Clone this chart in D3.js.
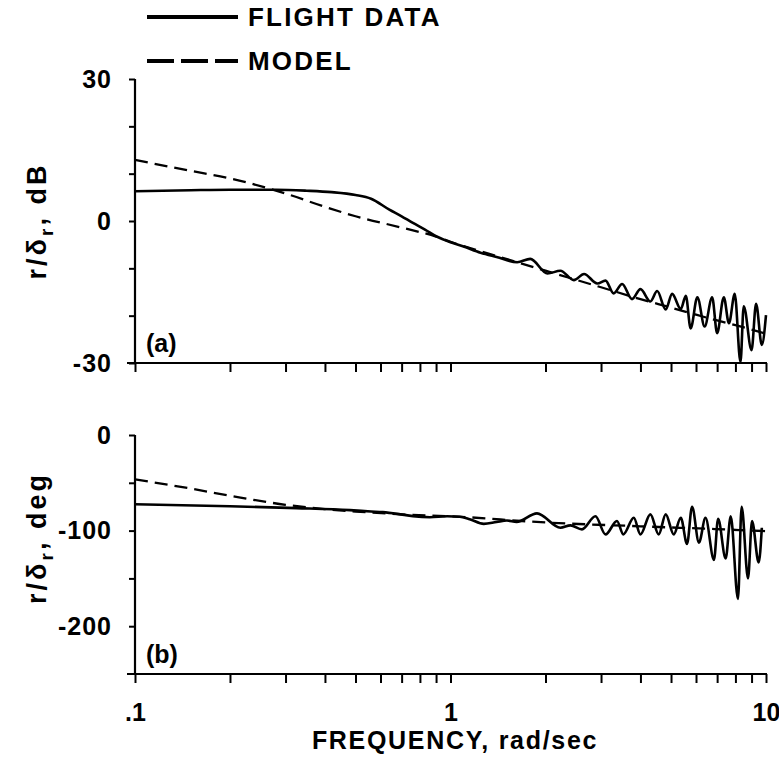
<!DOCTYPE html>
<html>
<head>
<meta charset="utf-8">
<script src="https://cdn.jsdelivr.net/npm/d3@7"></script>
<style>
  body { margin: 0; background: #fff; }
  text { font-family: "Liberation Sans", Arial, sans-serif; font-weight: bold; fill: #000; }
</style>
</head>
<body>
<div class="bode"></div>
<script>
// ---- data ----
const magModelFreq = [0.1, 0.15, 0.2, 0.3, 0.4, 0.5, 0.7, 0.9, 1.0, 1.5, 2, 3, 4, 5, 6, 7, 8, 10]
const magModel = [12.9, 10.6, 9.0, 5.8, 3.0, 1.0, -1.4, -3.3, -4.4, -8.0, -10.5, -14.0, -16.5, -18.3, -19.8, -21.0, -22.0, -23.8]

const magFlightFreq = [0.1, 0.15, 0.2, 0.28, 0.35, 0.42, 0.5, 0.56, 0.64, 0.7, 0.76, 0.83, 0.9, 1.0, 1.1, 1.245, 1.4, 1.627, 1.79,
  2.03, 2.23, 2.46, 2.65, 2.92, 3.1, 3.29, 3.5, 3.76, 4.0, 4.3, 4.52, 4.81, 5.04, 5.37, 5.57, 5.77, 6.06, 6.39, 6.75,
  7.0, 7.35, 7.63, 7.96, 8.3, 8.5, 9.0, 9.3, 9.7, 10.0]
const magFlight = [6.3, 6.5, 6.6, 6.6, 6.4, 6.1, 5.5, 4.7, 2.4, 1.0, -0.4, -1.8, -3.2, -4.5, -5.4, -6.7, -7.6, -8.7, -8.0,
  -11.1, -10.5, -12.5, -11.2, -13.2, -12.6, -15.3, -13.3, -16.5, -14.4, -17.0, -14.8, -18.7, -15.4, -18.6, -15.8, -22.7, -16.1, -22.3, -16.1,
  -23.7, -16.1, -21.6, -15.4, -29.8, -18.0, -27.3, -17.5, -26.2, -19.9]

const phModelFreq = [0.1, 0.15, 0.2, 0.3, 0.4, 0.5, 0.7, 1, 2, 4, 7, 10]
const phModel = [-46.5, -56, -63.5, -73, -77.5, -80, -83, -85, -91.5, -95.5, -98.5, -100.5]

const phFlightFreq = [0.1, 0.2, 0.325, 0.48, 0.56, 0.61, 0.68, 0.76, 0.86, 0.976, 1.07, 1.15, 1.275, 1.4, 1.51, 1.62, 1.88,
  2.23, 2.4, 2.61, 2.88, 3.1, 3.37, 3.53, 3.81, 4.0, 4.3, 4.57, 4.81, 5.1, 5.37, 5.62, 5.83, 6.13, 6.43, 6.84, 7.05,
  7.45, 7.73, 8.15, 8.37, 8.77, 9.03, 9.48, 9.7]
const phFlight = [-72.5, -74.5, -76.5, -78.6, -80, -80.7, -82.5, -84.9, -86, -85, -85.5, -88, -93, -91, -89.5, -91, -82,
  -97, -94.5, -98.7, -85, -104, -90, -104, -86.6, -104, -83, -104, -83, -104, -86.6, -114, -75, -112.6, -86.6, -130.6, -87.6,
  -129.2, -85, -171.4, -75, -150, -90, -133.3, -97]

const freqTicks = [0.1, 0.2, 0.3, 0.4, 0.5, 0.6, 0.7, 0.8, 0.9, 1, 2, 3, 4, 5, 6, 7, 8, 9, 10]
const freqLabels = {0.1: ".1", 1: "1", 10: "10"}
const magTicks = [-30, -20, -10, 0, 10, 20, 30]
const magLabels = {30: "30", 0: "0", "-30": "-30"}
const phTicks = [-200, -150, -100, -50, 0]
const phLabels = {0: "0", "-100": "-100", "-200": "-200"}

// ---- layout ----
const svg = d3.select(".bode").append("svg").attr("width", 779).attr("height", 759)
const x = d3.scaleLog().domain([0.1, 10]).range([135, 766])
const yMag = d3.scaleLinear().domain([-30, 30]).range([363, 79])
const yPh = d3.scaleLinear().domain([-250, 0]).range([674, 435])

function drawPanel(y, yTicks, yLabels, showX, tag, title, titleY) {
  const g = svg.append("g")
  const y0 = y.range()[0]
  // y axis, ticks outward
  const ya = g.append("g").attr("transform", "translate(135,0)")
    .call(d3.axisLeft(y).tickValues(yTicks).tickSize(6).tickPadding(17)
      .tickFormat(d => yLabels[d] || ""))
  ya.select(".domain").remove()
  ya.selectAll("line").attr("stroke", "#000").attr("stroke-width", 2)
  ya.selectAll("text").style("font-size", "25px").style("letter-spacing", "1px").attr("font-family", null)
  g.append("line").attr("x1", 135).attr("x2", 135).attr("y1", y.range()[1]).attr("y2", y0)
    .attr("stroke", "#000").attr("stroke-width", 2.2)

  // x axis, ticks downward
  const xa = g.append("g").attr("transform", `translate(0,${y0})`)
    .call(d3.axisBottom(x).tickValues(freqTicks).tickSize(9).tickPadding(20)
      .tickFormat(d => showX ? (freqLabels[d] || "") : ""))
  xa.select(".domain").remove()
  xa.selectAll("line").attr("stroke", "#000").attr("stroke-width", 2)
  xa.selectAll("text").style("font-size", "25px").attr("font-family", null)
  g.append("line").attr("x1", 127).attr("x2", 767).attr("y1", y0).attr("y2", y0)
    .attr("stroke", "#000").attr("stroke-width", 2.2)

  g.append("text").attr("x", 146).attr("y", y0 - 11).style("font-size", "25px").text(tag)

  // rotated axis title with subscript
  const t = g.append("text").attr("transform", `translate(46,${titleY}) rotate(-90)`)
    .attr("text-anchor", "middle").style("font-size", "27px").style("letter-spacing", "3px")
  t.append("tspan").text("r/δ")
  t.append("tspan").attr("dy", 7).style("font-size", "19px").text("r")
  t.append("tspan").attr("dy", -7).text(", " + title)
  return g
}

drawPanel(yMag, magTicks, magLabels, false, "(a)", "dB", 221)
drawPanel(yPh, phTicks, phLabels, true, "(b)", "deg", 538)

svg.append("text").attr("x", 455).attr("y", 749).attr("text-anchor", "middle")
  .style("font-size", "25px").style("letter-spacing", "1.7px").text("FREQUENCY, rad/sec")

// ---- curves ----
function curve(freqs, vals, y, dashed) {
  const line = d3.line().x(d => x(d[0])).y(d => y(d[1])).curve(d3.curveMonotoneX)
  svg.append("path").datum(d3.zip(freqs, vals)).attr("d", line)
    .attr("fill", "none").attr("stroke", "#000").attr("stroke-width", dashed ? 2.3 : 2.6)
    .attr("stroke-dasharray", dashed ? "13,7" : null)
}
curve(magModelFreq, magModel, yMag, true)
curve(magFlightFreq, magFlight, yMag, false)
curve(phModelFreq, phModel, yPh, true)
curve(phFlightFreq, phFlight, yPh, false)

// ---- legend ----
const legendNames = ["FLIGHT DATA", "MODEL"]
const legend = svg.selectAll(".legend").data(legendNames).enter().append("g")
  .attr("class", "legend").attr("transform", (d, i) => `translate(147,${17 + i * 44})`)
legend.append("line").attr("x1", 0).attr("x2", 91).attr("stroke", "#000").attr("stroke-width", 4)
  .attr("stroke-dasharray", (d, i) => i ? "27,7" : null)
legend.append("text").attr("x", 101).attr("y", 9).style("font-size", "26px").style("letter-spacing", "2.2px").text(d => d)
</script>
</body>
</html>
